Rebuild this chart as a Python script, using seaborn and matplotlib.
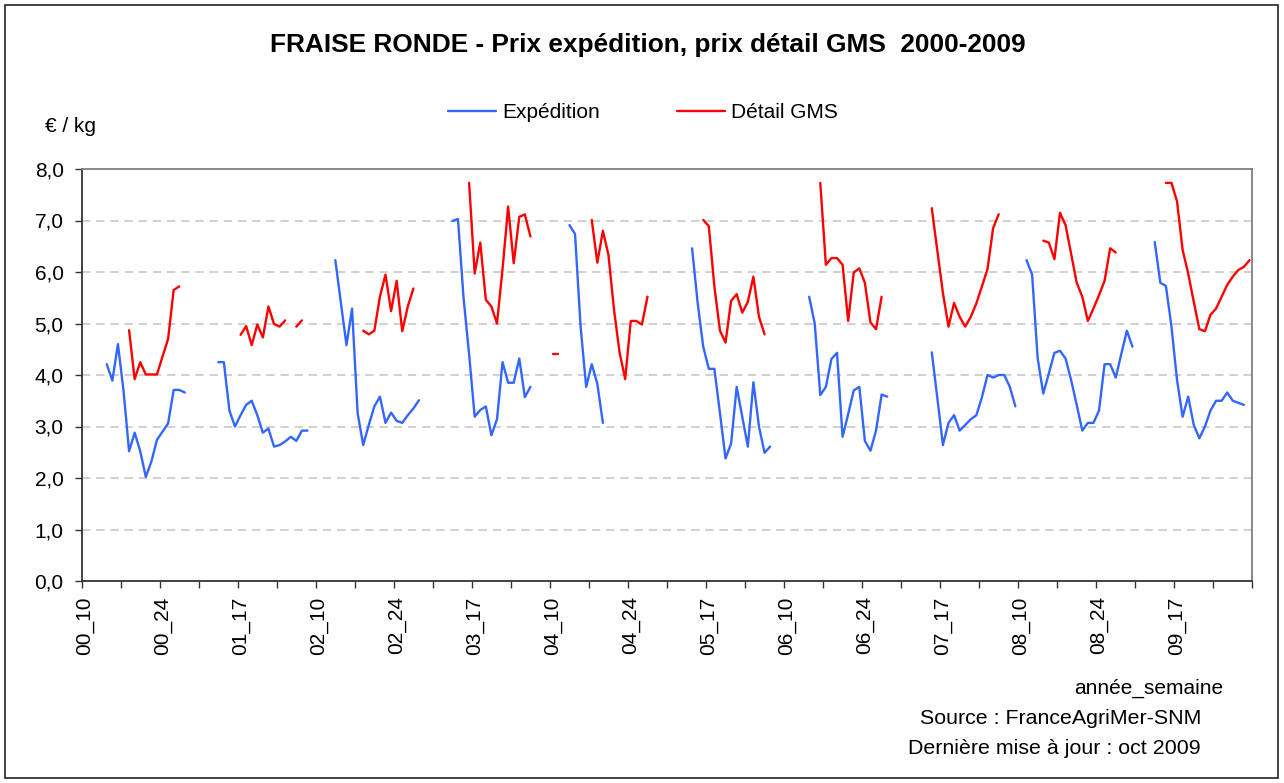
import numpy as np
import pandas as pd
import matplotlib
matplotlib.use('Agg')
import matplotlib.pyplot as plt
import seaborn as sns
from matplotlib.lines import Line2D
from matplotlib.patches import Rectangle

# ---------------------------------------------------------
# DATA - weeks 10..30 for each year
# ---------------------------------------------------------
years = ['00', '01', '02', '03', '04', '05', '06', '07', '08', '09']
weeks = list(range(10, 31))
N = None

exp_00 = [N, N, N, N, 4.21, 3.89, 4.60, 3.70, 2.52, 2.88, 2.52, 2.02, 2.32, 2.74, 2.90, 3.06, 3.71, 3.71, 3.66, N, N]
exp_01 = [N, N, N, 4.25, 4.25, 3.31, 3.00, 3.22, 3.42, 3.50, 3.22, 2.88, 2.96, 2.61, 2.64, 2.71, 2.80, 2.72, 2.92, 2.92, N]
exp_02 = [N, N, N, 6.23, 5.40, 4.58, 5.29, 3.26, 2.64, 3.03, 3.39, 3.58, 3.07, 3.27, 3.11, 3.07, 3.22, 3.35, 3.51, N, N]
exp_03 = [N, N, N, 6.99, 7.03, 5.50, 4.40, 3.19, 3.32, 3.39, 2.83, 3.14, 4.25, 3.85, 3.85, 4.32, 3.57, 3.77, N, N, N]
exp_04 = [N, N, N, 6.91, 6.74, 4.94, 3.77, 4.21, 3.83, 3.07, N, N, N, N, N, N, N, N, N, N, N]
exp_05 = [N, N, N, N, 6.46, 5.40, 4.55, 4.12, 4.12, 3.26, 2.38, 2.67, 3.77, 3.19, 2.61, 3.86, 3.00, 2.49, 2.61, N, N]
exp_06 = [N, N, N, N, 5.52, 5.00, 3.61, 3.77, 4.31, 4.43, 2.80, 3.24, 3.70, 3.77, 2.72, 2.53, 2.92, 3.62, 3.58, N, N]
exp_07 = [N, N, N, N, N, 4.44, 3.55, 2.64, 3.07, 3.22, 2.92, 3.03, 3.14, 3.22, 3.57, 4.00, 3.95, 4.00, 4.00, 3.77, 3.39]
exp_08 = [N, 6.23, 5.95, 4.32, 3.64, 4.03, 4.43, 4.47, 4.32, 3.90, 3.42, 2.92, 3.07, 3.07, 3.31, 4.21, 4.21, 3.95, 4.41, 4.86, 4.55]
exp_09 = [N, N, N, 6.58, 5.79, 5.73, 4.94, 3.90, 3.19, 3.58, 3.03, 2.77, 3.00, 3.31, 3.50, 3.50, 3.66, 3.50, 3.46, 3.42, N]

det_00 = [N, N, N, N, N, N, N, N, 4.87, 3.92, 4.25, 4.01, 4.01, 4.01, 4.36, 4.70, 5.65, 5.72, N, N, N]
det_01 = [N, N, N, N, N, N, N, 4.78, 4.95, 4.58, 4.98, 4.73, 5.33, 4.99, 4.94, 5.06, N, 4.94, 5.06, N, N]
det_02 = [N, N, N, N, N, N, N, N, 4.86, 4.79, 4.86, 5.52, 5.95, 5.24, 5.83, 4.85, 5.33, 5.68, N, N, N]
det_03 = [N, N, N, N, N, N, 7.73, 5.97, 6.57, 5.46, 5.33, 5.00, 6.06, 7.27, 6.17, 7.07, 7.12, 6.69, N, N, N]
det_04 = [4.40, 4.40, N, N, N, N, N, 7.01, 6.18, 6.80, 6.33, 5.26, 4.43, 3.92, 5.05, 5.05, 4.98, 5.52, N, N, N]
det_05 = [N, N, N, N, N, N, 7.01, 6.89, 5.72, 4.86, 4.63, 5.44, 5.57, 5.21, 5.42, 5.91, 5.13, 4.79, N, N, N]
det_06 = [N, N, N, N, N, N, 7.73, 6.14, 6.27, 6.27, 6.14, 5.05, 5.99, 6.07, 5.79, 5.02, 4.89, 5.52, N, N, N]
det_07 = [N, N, N, N, N, 7.24, 6.41, 5.59, 4.94, 5.40, 5.13, 4.94, 5.13, 5.39, 5.72, 6.06, 6.85, 7.12, N, N, N]
det_08 = [N, N, N, N, 6.61, 6.57, 6.25, 7.15, 6.91, 6.35, 5.79, 5.52, 5.05, 5.29, 5.55, 5.83, 6.46, 6.38, N, N, N]
det_09 = [N, N, N, N, N, 7.73, 7.73, 7.37, 6.43, 5.97, 5.42, 4.89, 4.85, 5.17, 5.29, 5.52, 5.75, 5.91, 6.04, 6.10, 6.23]

expedition = [exp_00, exp_01, exp_02, exp_03, exp_04, exp_05, exp_06, exp_07, exp_08, exp_09]
detail = [det_00, det_01, det_02, det_03, det_04, det_05, det_06, det_07, det_08, det_09]

categories = [f"{y}_{w}" for y in years for w in weeks]
tick_labels = ['00_10', '00_24', '01_17', '02_10', '02_24', '03_17', '04_10', '04_24',
               '05_17', '06_10', '06_24', '07_17', '08_10', '08_24', '09_17']

# ---------------------------------------------------------
# LONG TABLE (one segment id per unbroken run of values)
# ---------------------------------------------------------
frames = []
for name, blocks in [('Expédition', expedition), ('Détail GMS', detail)]:
    vals = pd.Series([v for b in blocks for v in b], dtype=float)
    seg = vals.isna().cumsum()
    d = pd.DataFrame({'idx': np.arange(len(vals)), 'prix': vals, 'serie': name,
                      'seg': name + '_' + seg.astype(str)})
    frames.append(d.dropna(subset=['prix']))
df = pd.concat(frames, ignore_index=True)

colors = {'Expédition': '#3366FF', 'Détail GMS': '#FF0000'}

# ---------------------------------------------------------
# FIGURE
# ---------------------------------------------------------
sns.set_style('white')
plt.rcParams['font.family'] = ['Liberation Sans', 'DejaVu Sans']
plt.rcParams['text.color'] = 'black'
plt.rcParams['xtick.color'] = 'black'
plt.rcParams['ytick.color'] = 'black'
fs = 15

fig = plt.figure(figsize=(12.84, 7.83), dpi=100)
ax = fig.add_axes([81.7 / 1284, 1 - 581 / 783, 1170.6 / 1284, 412 / 783])

sns.lineplot(data=df, x='idx', y='prix', hue='serie', units='seg', estimator=None,
             palette=colors, linewidth=1.7, sort=False, legend=False, ax=ax)

n = len(categories)
ax.set_xlim(-0.5, n - 0.5)
ax.set_ylim(0, 8)

# y axis
ax.set_yticks(range(9))
ax.set_yticklabels([f"{v},0" for v in range(9)], fontsize=fs)
for v in range(1, 8):
    ax.axhline(v, color='#c8c8c8', lw=1.2, dashes=(5, 3.5), zorder=0)

# x axis: tick marks every 7 weeks, labels every 14 weeks
ax.set_xticks(np.arange(-0.5, n, 7))
ax.set_xticklabels([])
lab_pos = [categories.index(t) for t in tick_labels]
ax.set_xticks(lab_pos, minor=True)
ax.set_xticklabels(tick_labels, minor=True, rotation=90, fontsize=fs)
ax.tick_params(axis='x', which='major', direction='out', length=5, width=1, color='#333333', bottom=True)
ax.tick_params(axis='x', which='minor', length=0, pad=11)
ax.tick_params(axis='y', direction='out', length=5, width=1, color='#333333', left=True, pad=8)
ax.set_xlabel('')
ax.set_ylabel('')

for s in ['left', 'bottom']:
    ax.spines[s].set_color('#333333')
    ax.spines[s].set_linewidth(1.3)
for s in ['top', 'right']:
    ax.spines[s].set_color('#808080')
    ax.spines[s].set_linewidth(1.3)

# texts
fig.text(0.5046, 1 - 45 / 783, 'FRAISE RONDE - Prix expédition, prix détail GMS  2000-2009',
         ha='center', va='center', fontsize=18.9, fontweight='bold')
fig.text(45 / 1284, 1 - 127 / 783, '€ / kg', ha='left', va='center', fontsize=fs)
fig.text(1223 / 1284, 1 - 688 / 783, 'année_semaine', ha='right', va='center', fontsize=fs)
fig.text(1201 / 1284, 1 - 719 / 783, 'Source : FranceAgriMer-SNM', ha='right', va='center', fontsize=15.4)
fig.text(1201 / 1284, 1 - 748 / 783, 'Dernière mise à jour : oct 2009', ha='right', va='center', fontsize=15.4)

handles = [Line2D([], [], color=colors[k], lw=1.7) for k in colors]
fig.legend(handles, list(colors), loc='center', bbox_to_anchor=(0.501, 1 - 113 / 783), ncol=2,
           frameon=False, fontsize=fs, handlelength=2.3, handletextpad=0.3, columnspacing=3.7)

# outer frame
fig.patches.append(Rectangle((5 / 1284, 1 - 778 / 783), 1273 / 1284, 773 / 783,
                             transform=fig.transFigure, fill=False, edgecolor='#222222', lw=1.2))

fig.savefig('out.png', dpi=100)
